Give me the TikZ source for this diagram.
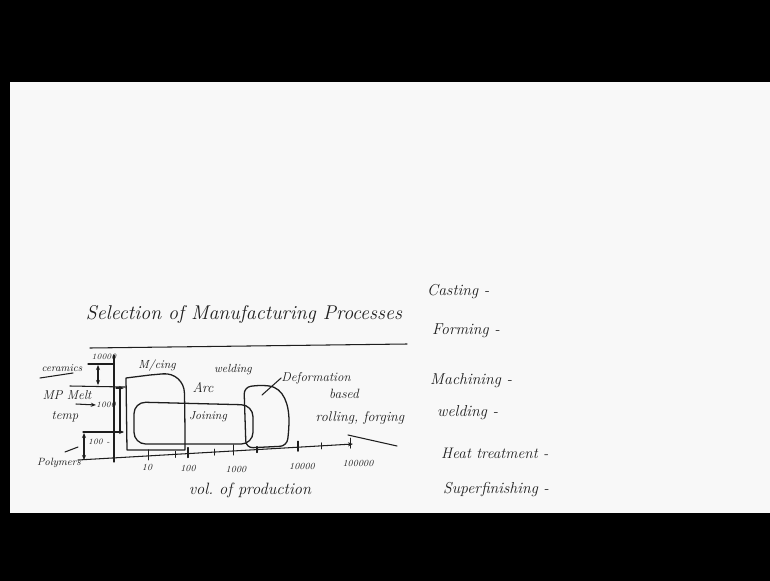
\documentclass[tikz,border=0pt]{standalone}
\usepackage{tikz}
\usetikzlibrary{arrows.meta,calc}
\definecolor{inkc}{HTML}{1E1E1E}
\definecolor{board}{HTML}{F8F8F8}
\begin{document}
\begin{tikzpicture}[x=0.03cm, y=-0.03cm,
  ink/.style={draw=inkc, line width=0.9pt, line cap=round, line join=round},
  region/.style={ink, line width=1.1pt},
  hand/.style={text=inkc, inner sep=0pt, font=\itshape\fontsize{#1}{#1}\selectfont},
  hand/.default=10,
  edge/.style={ink, -{Stealth[length=1.5mm, width=1.2mm]}},
  twoway/.style={ink, {Stealth[length=1.5mm, width=1.2mm]}-{Stealth[length=1.5mm, width=1.2mm]}}
]
  % board
  \fill[black] (0,0) rectangle (770,581);
  \fill[board] (10,82) rectangle (770,513);
  \useasboundingbox (0,0) rectangle (770,581);

  % heading
  \node[hand=17] (title) at (244,315) {Selection of Manufacturing Processes};
  \draw[ink] (90,348) -- (407,344);

  % list of processes
  \node[hand=13.5, anchor=west] (cast) at (427,292) {Casting -};
  \node[hand=13.5, anchor=west] (form) at (432,331) {Forming -};
  \node[hand=13.5, anchor=west] (mach) at (430,381) {Machining -};
  \node[hand=13.5, anchor=west] (weld) at (437,413) {welding -};
  \node[hand=13, anchor=west] (heat) at (441,453) {Heat treatment -};
  \node[hand=13.5, anchor=west] (sfin) at (443,490) {Superfinishing -};

  % axes
  \draw[ink] (114,355) -- (114,462);
  \coordinate (xs) at (78,460);
  \coordinate (xe) at (353,444);
  \draw[edge] (xs) -- (xe);
  \foreach \f in {0.255,0.4,0.564,0.8,0.99}
    \draw[ink] ($(xs)!\f!(xe)$) ++(0,-6) -- ++(0,10);
  \foreach \f in {0.353,0.498,0.651,0.887}
    \draw[ink] ($(xs)!\f!(xe)$) ++(0,-3) -- ++(0,6);
  \node[hand=8] (x10) at (147,467) {10};
  \node[hand=8] (x100) at (188,468) {100};
  \node[hand=8] (x1k) at (236,469) {1000};
  \node[hand=8] (x10k) at (302,466) {10000};
  \node[hand=8] (x100k) at (358,463) {100000};
  \node[hand=14] (xlbl) at (250,490) {vol.\ of production};

  % melting point scale
  \draw[ink] (88,364) -- (113,364);
  \node[hand=7] (y10k) at (104,357) {10000};
  \node[hand=9] (cer) at (62,368) {ceramics};
  \draw[ink] (40,378) -- (73,373);
  \draw[twoway] (98,365) -- (98,385);
  \draw[ink] (70,386) -- (125,387);
  \node[hand=11] (mp) at (67,395) {MP Melt};
  \node[hand=7] (y1k) at (106,405) {1000};
  \coordinate (mpa) at (76,404);
  \draw[edge] (mpa) -- (y1k.west);
  \node[hand=11] (temp) at (65,417) {temp};
  \draw[ink] (120,388) -- (120,432);
  \draw[edge] (116,388) -- (124,388);
  \draw[ink] (83,432) -- (122,432);
  \draw[edge] (116,432) -- (124,432);
  \node[hand=7] (y100) at (99,442) {100 -};
  \draw[twoway] (84,433) -- (84,460);
  \node[hand=9] (poly) at (59,463) {Polymers};
  \coordinate (pa) at (65,452);
  \draw[ink] (pa) -- (78,447);

  % process windows
  \draw[region] (185,450) -- (127,450) -- (126,378) -- (150,375)
    [rounded corners=18] -- (184,372) -- (185,420) [sharp corners] -- (185,450);
  \node[hand=10] (mcing) at (157,366) {M/cing};
  \draw[region, rounded corners=10] (134,402) -- (253,405) -- (253,444) -- (134,444) -- cycle;
  \node[hand=10] (join) at (208,417) {Joining};
  \node[hand=12] (arc) at (203,388) {Arc};
  \node[hand=10] (arcw) at (233,370) {welding};
  \draw[region, rounded corners=6] (246,448) -- (244,387) -- (262,385)
    .. controls (284,388) and (289,405) .. (289,428) -- (287,446) -- cycle;
  \node[hand=11] (defo) at (316,378) {Deformation};
  \node[hand=11.5] (based) at (344,394) {based};
  \coordinate (dp) at (262,395);
  \draw[ink] (dp) -- (defo.west);
  \node[hand=12] (roll) at (360,418) {rolling, forging};
  \coordinate (ra) at (348,435);
  \draw[ink] (ra) -- (397,446);
\end{tikzpicture}
\end{document}
